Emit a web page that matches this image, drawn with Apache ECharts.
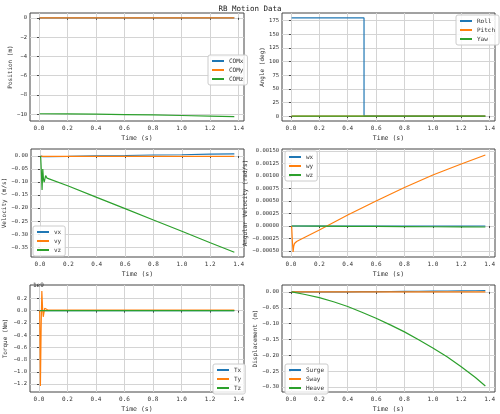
<!DOCTYPE html>
<html><head><meta charset="utf-8">
<script src="https://cdn.jsdelivr.net/npm/echarts@6/dist/echarts.min.js"></script>
<style>html,body{margin:0;padding:0;background:#fff}#c{width:500px;height:414px}</style>
</head><body><div id="c"></div>
<script>
// time samples (s)
var tSmooth = [0.005, 0.2, 0.4, 0.6, 0.8, 1.0, 1.2, 1.37];
var tDisp = [0.005, 0.1, 0.2, 0.3, 0.4, 0.5, 0.6, 0.7, 0.8, 0.9, 1.0, 1.1, 1.2, 1.3, 1.37];
var tEarly = [0.005, 0.01, 0.015, 0.02, 0.025, 0.03, 0.04, 0.05, 0.06, 0.2, 0.4, 0.6, 0.8, 1.0, 1.2, 1.37];
var tRoll = [0.005, 0.515, 0.5151, 1.37];
var tTicks = [0, 0.2, 0.4, 0.6, 0.8, 1.0, 1.2, 1.4];

var comX = [0, 0, 0, 0, 0, 0, 0, 0];
var comY = [0, 0, 0, 0, 0, 0, 0, 0];
var comZ = [-9.95, -9.97, -9.99, -10.03, -10.07, -10.13, -10.19, -10.25];

var roll = [180, 180, 0, 0];
var pitch = [0, 0, 0, 0];
var yaw = [0, 0, 0, 0];

var vx = [0, -0.002, -0.002, -0.002, -0.002, -0.002, -0.002, -0.002, -0.002, -0.001, 0.001, 0.002, 0.004, 0.005, 0.007, 0.008];
var vy = [0, -0.001, -0.001, -0.001, -0.001, -0.001, -0.001, -0.001, -0.001, -0.001, -0.001, -0.001, -0.001, -0.001, -0.001, -0.001];
var vz = [0, -0.06, -0.13, -0.05, -0.09, -0.1, -0.075, -0.085, -0.085, -0.115, -0.159, -0.202, -0.246, -0.289, -0.333, -0.37];

var wx = [0, 0, 0, 0, 0, 0, 0, 0, 0, 0, 0, 0, 0, 0, 0, 0];
var wy = [0, -0.0003, -0.00052, -0.0004, -0.00035, -0.00033, -0.00031, -0.0003, -0.00028, -0.00008, 0.00022, 0.0005, 0.00077, 0.00102, 0.00124, 0.00142];
var wz = [0, 0, 0, 0, 0, 0, 0, 0, 0, -0.000003, -0.000006, -0.000009, -0.000012, -0.000015, -0.000018, -0.00002];

// torque in units of 1e9 N·m
var tx = [0, 0, 0, 0, 0, 0, 0, 0, 0, 0, 0, 0, 0, 0, 0, 0];
var ty = [0, -1.23, -0.3, 0.32, 0.05, -0.1, 0.04, 0.02, 0.015, 0.01, 0.01, 0.01, 0.01, 0.01, 0.01, 0.01];
var tz = [0, 0, 0, 0, 0, 0, 0, 0, 0, 0, 0, 0, 0, 0, 0, 0];

var surge = [0, 0, 0, 0.0003, 0.0005, 0.0008, 0.001, 0.0014, 0.0018, 0.0022, 0.0026, 0.003, 0.0034, 0.0038, 0.004];
var sway = [0, 0, 0, 0, 0, 0, 0, 0, 0, 0, 0, 0, 0, 0, 0];
var heave = [0, -0.008, -0.018, -0.031, -0.046, -0.064, -0.083, -0.104, -0.126, -0.151, -0.177, -0.205, -0.236, -0.27, -0.297];

var C = ['#1f77b4', '#ff7f0e', '#2ca02c'];
var FONT = 'DejaVu Sans Mono';

function zip(t, v) { return t.map(function (x, i) { return [x, v[i]]; }); }
function neg(s) { return s.replace('-', '−'); }

var grids = [
  {left: 30, top: 13, width: 214, height: 108},
  {left: 282, top: 13, width: 213, height: 108},
  {left: 30, top: 149, width: 214, height: 108},
  {left: 282, top: 149, width: 213, height: 108},
  {left: 30, top: 285, width: 214, height: 109},
  {left: 282, top: 285, width: 213, height: 109}
];
var yCfg = [
  {name: 'Position (m)', gap: 17, min: -10.7, max: 0.5, ticks: [0, -2, -4, -6, -8, -10], fmt: function (v) { return neg(v.toString()); }},
  {name: 'Angle (deg)', gap: 17, min: -9, max: 189, ticks: [0, 25, 50, 75, 100, 125, 150, 175], fmt: function (v) { return v; }},
  {name: 'Velocity (m/s)', gap: 24, min: -0.388, max: 0.027, ticks: [0, -0.05, -0.1, -0.15, -0.2, -0.25, -0.3, -0.35], fmt: function (v) { return neg(v.toFixed(2)); }},
  {name: 'Angular Velocity (rad/s)', gap: 31, min: -0.00062, max: 0.00154, ticks: [-0.0005, -0.00025, 0, 0.00025, 0.0005, 0.00075, 0.001, 0.00125, 0.0015], fmt: function (v) { return neg(v.toFixed(5)); }},
  {name: 'Torque (Nm)', gap: 22, min: -1.33, max: 0.42, ticks: [0.2, 0, -0.2, -0.4, -0.6, -0.8, -1.0, -1.2], fmt: function (v) { return neg(v.toFixed(1)); }},
  {name: 'Displacement (m)', gap: 24, min: -0.316, max: 0.022, ticks: [0, -0.05, -0.1, -0.15, -0.2, -0.25, -0.3], fmt: function (v) { return neg(v.toFixed(2)); }}
];

var xAxes = [], yAxes = [];
grids.forEach(function (g, i) {
  g.show = true; g.borderColor = '#444'; g.borderWidth = 1; g.backgroundColor = '#fff';
  xAxes.push({
    type: 'value', gridIndex: i, min: -0.063, max: 1.438,
    name: 'Time (s)', nameLocation: 'middle', nameGap: 14,
    nameTextStyle: {fontFamily: FONT, fontSize: 6.5, color: '#333'},
    axisLine: {show: false},
    axisTick: {show: true, length: 2, customValues: tTicks, lineStyle: {color: '#444'}},
    axisLabel: {customValues: tTicks, fontFamily: FONT, fontSize: 6, color: '#333', margin: 4,
      formatter: function (v) { return v.toFixed(1); }},
    splitLine: {show: true, lineStyle: {color: '#d4d4d4', width: 1}}
  });
  var y = yCfg[i];
  yAxes.push({
    type: 'value', gridIndex: i, min: y.min, max: y.max,
    name: y.name, nameLocation: 'middle', nameGap: y.gap,
    nameTextStyle: {fontFamily: FONT, fontSize: 6, color: '#333'},
    axisLine: {show: false},
    axisTick: {show: true, length: 2, customValues: y.ticks, lineStyle: {color: '#444'}},
    axisLabel: {customValues: y.ticks, fontFamily: FONT, fontSize: 5.5, color: '#333', margin: 3, formatter: y.fmt},
    splitLine: {show: true, lineStyle: {color: '#d4d4d4', width: 1}}
  });
});

var panels = [
  {t: tSmooth, names: ['COMx', 'COMy', 'COMz'], vals: [comX, comY, comZ]},
  {t: tRoll, names: ['Roll', 'Pitch', 'Yaw'], vals: [roll, pitch, yaw]},
  {t: tEarly, names: ['vx', 'vy', 'vz'], vals: [vx, vy, vz]},
  {t: tEarly, names: ['wx', 'wy', 'wz'], vals: [wx, wy, wz]},
  {t: tEarly, names: ['Tx', 'Ty', 'Tz'], vals: [tx, ty, tz]},
  {t: tDisp, names: ['Surge', 'Sway', 'Heave'], vals: [surge, sway, heave]}
];
var series = [];
var legendPos = [
  {left: 208, top: 55}, {left: 456, top: 15}, {left: 33, top: 226},
  {left: 285, top: 151}, {left: 213, top: 364}, {left: 285, top: 364}
];
var legends = [];
panels.forEach(function (p, i) {
  p.names.forEach(function (n, k) {
    series.push({
      type: 'line', name: n + '#' + i, xAxisIndex: i, yAxisIndex: i,
      data: zip(p.t, p.vals[k]), showSymbol: false, lineStyle: {width: 1.2, color: C[k]},
      itemStyle: {color: C[k]}, animation: false
    });
  });
  legends.push({
    data: p.names.map(function (n) { return n + '#' + i; }),
    formatter: function (n) { return n.split('#')[0]; },
    orient: 'vertical', left: legendPos[i].left, top: legendPos[i].top,
    itemWidth: 12, itemHeight: 2, itemGap: 3, padding: [3, 4],
    backgroundColor: 'rgba(255,255,255,0.85)', borderColor: '#ccc', borderWidth: 1, borderRadius: 2,
    icon: 'rect', textStyle: {fontFamily: FONT, fontSize: 6, color: '#333'}
  });
});

var chart = echarts.init(document.getElementById('c'));
chart.setOption({
  backgroundColor: '#fff',
  title: [{text: 'RB Motion Data', left: 'center', top: 0, textStyle: {fontFamily: FONT, fontSize: 7.5, fontWeight: 'normal', color: '#222'}},
          {text: '1e9', left: 28, top: 277, textStyle: {fontFamily: FONT, fontSize: 6, fontWeight: 'normal', color: '#333'}}],
  grid: grids, xAxis: xAxes, yAxis: yAxes, series: series, legend: legends
});
</script></body></html>
